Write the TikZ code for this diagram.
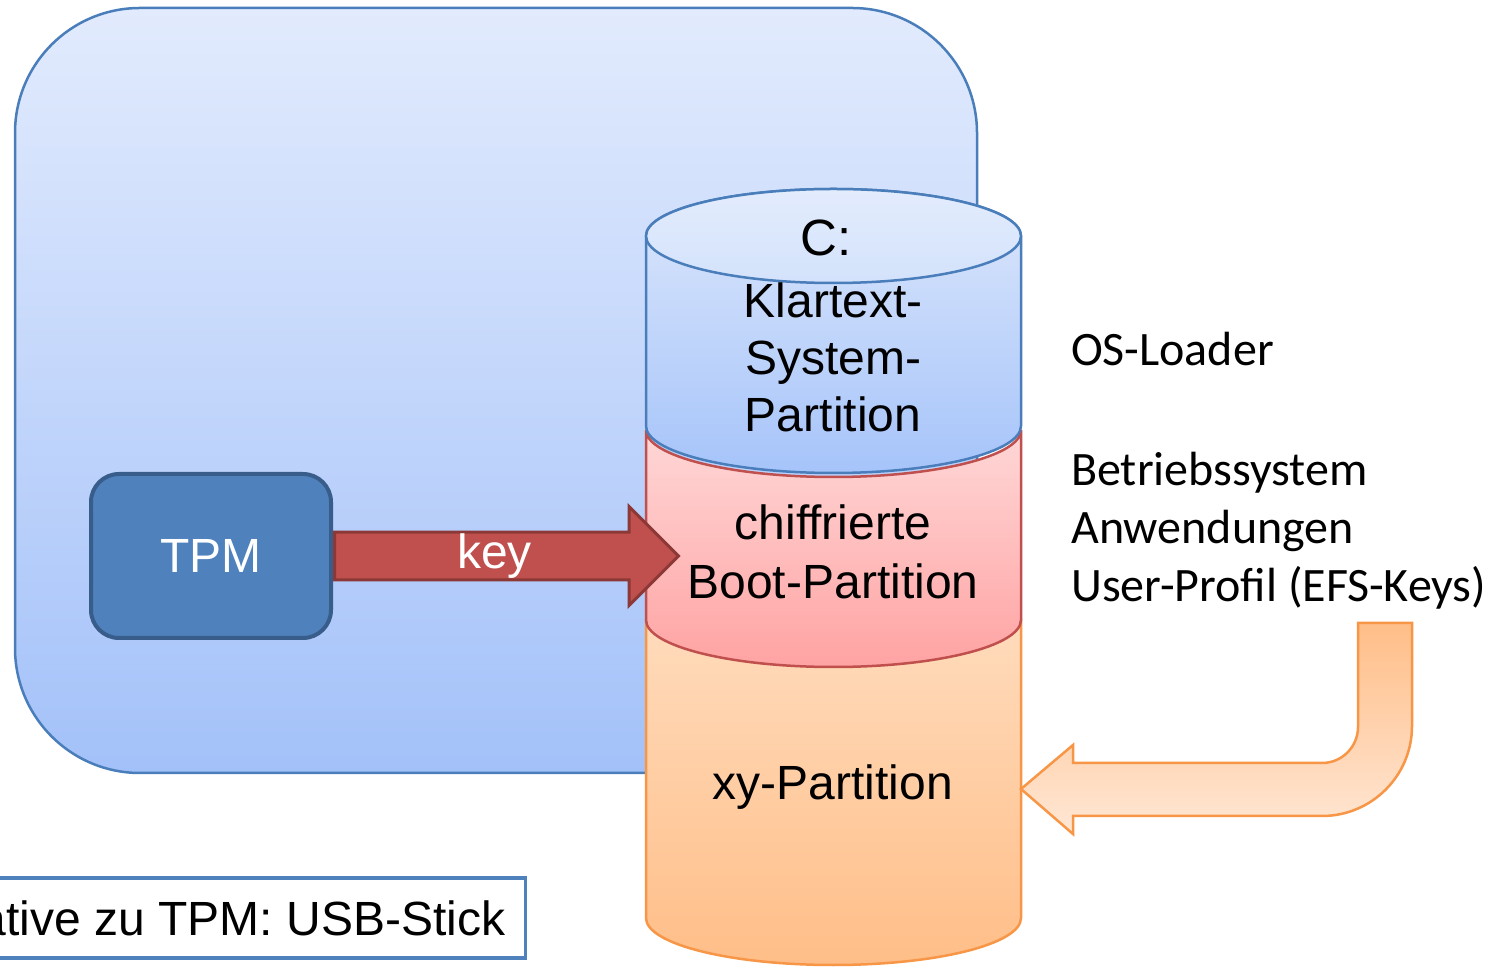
\documentclass[tikz,border=0pt]{standalone}
\usepackage{fontspec}
\setmainfont{Liberation Sans}
\newfontfamily\calibrifont{Carlito}
\usetikzlibrary{shapes.arrows}

\definecolor{boxblue}{HTML}{4A7EBB}
\definecolor{boxtop}{HTML}{E2EBFD}
\definecolor{boxbot}{HTML}{A3C1F9}
\definecolor{tpmfill}{HTML}{4F81BD}
\definecolor{tpmdraw}{HTML}{385D8A}
\definecolor{keyred}{HTML}{C0504D}
\definecolor{keydraw}{HTML}{8C3836}
\definecolor{redtop}{HTML}{FFD7D7}
\definecolor{redbot}{HTML}{FFA3A3}
\definecolor{orangedraw}{HTML}{F79646}
\definecolor{orangetop}{HTML}{FFDFC3}
\definecolor{orangebot}{HTML}{FFBE88}
\definecolor{orangelight}{HTML}{FFE7D5}
\definecolor{bluetop}{HTML}{DCE7FB}
\definecolor{bluebot}{HTML}{A6C4FA}
\definecolor{lidtop}{HTML}{E3ECFD}
\definecolor{lidbot}{HTML}{D3E2FB}

\begin{document}
\begin{tikzpicture}[x=1pt, y=1pt,
    bigtext/.style={font=\fontsize{48}{57}\selectfont, align=center},
    sidetext/.style={font=\calibrifont\fontsize{48}{58}\selectfont, align=left, inner sep=0pt},
    part/.style={line width=2.5pt}]
    \useasboundingbox (0,0) rectangle (1495,966);
    \clip (0,0) rectangle (1495,966);

    % rechner
    \draw[boxblue, line width=2.5pt, rounded corners=125pt, top color=boxtop, bottom color=boxbot] (15,193) rectangle (977,958);

    % partitionen
    \draw[orangedraw, part, top color=orangetop, bottom color=orangebot] (646,346) -- (646,48) arc[start angle=180, end angle=360, x radius=187.5pt, y radius=47pt] -- (1021,346) arc[start angle=0, end angle=180, x radius=187.5pt, y radius=47pt] -- cycle;
    \draw[keyred, part, top color=redtop, bottom color=redbot] (646,536) -- (646,346) arc[start angle=180, end angle=360, x radius=187.5pt, y radius=47pt] -- (1021,536) arc[start angle=0, end angle=-180, x radius=187.5pt, y radius=47pt] -- cycle;
    \draw[boxblue, part, top color=bluetop, bottom color=bluebot] (646,730) -- (646,540) arc[start angle=180, end angle=360, x radius=187.5pt, y radius=47pt] -- (1021,730) arc[start angle=0, end angle=180, x radius=187.5pt, y radius=47pt] -- cycle;
    \draw[boxblue, part, top color=lidtop, bottom color=lidbot] (833.5,730) ellipse [x radius=187.5pt, y radius=47pt];

    \node[bigtext, font=\fontsize{51}{57}\selectfont] (cdrive) at (826,728) {C:};
    \node[bigtext] (syspart) at (833,609) {Klartext-\\System-\\Partition};
    \node[bigtext, font=\fontsize{48}{59}\selectfont] (bootpart) at (833,414) {chiffrierte\\Boot-Partition};
    \node[bigtext] (xypart) at (833,179) {xy-Partition};

    % tpm und schluessel
    \node[draw=tpmdraw, fill=tpmfill, line width=4pt, rounded corners=28pt, minimum width=240pt, minimum height=164pt, text=white, bigtext] (tpm) at (211,410) {TPM};
    \node[single arrow, draw=keydraw, fill=keyred, line width=3pt, minimum height=344pt, minimum width=99pt, single arrow head extend=25.5pt, single arrow tip angle=90, inner sep=0pt, anchor=tail, text=white, bigtext] (key) at (tpm.east) {key};

    % inhalte
    \node[sidetext, anchor=base west] (osloader) at (1071,600) {OS-Loader};
    \node[sidetext, anchor=north west] (inhalt) at (1071,514) {Betriebssystem\\Anwendungen\\User-Profil (EFS-Keys)};

    \coordinate (xyside) at (1021,177);
    \draw[orangedraw, line width=2.5pt, top color=orangebot, bottom color=orangelight] (1358,343) -- (1358,239) arc[start angle=0, end angle=-90, radius=36pt] -- (1073,203) -- (1073,221) -- (xyside) -- (1073,132) -- (1073,150) -- (1322,150) arc[start angle=-90, end angle=0, radius=90pt] -- (1412,343) -- cycle;

    % usb
    \node[draw=tpmfill, line width=3.5pt, bigtext, anchor=east, minimum height=80pt, inner xsep=20pt] (usb) at (527,48) {Alternative zu TPM: USB-Stick};
\end{tikzpicture}
\end{document}
